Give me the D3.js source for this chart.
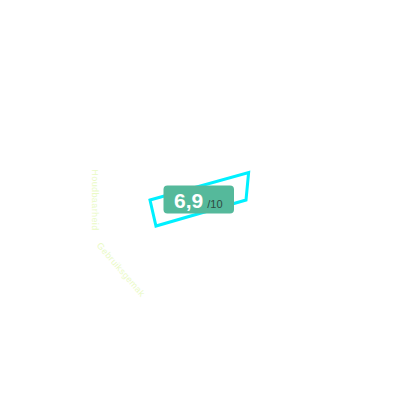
<!DOCTYPE html>
<html>
<head>
<meta charset="utf-8">
<script src="https://cdn.jsdelivr.net/npm/d3@7"></script>
<style>
  body { margin: 0; background: #fff; }
</style>
</head>
<body>
<div id="chart"></div>
<script>
// radar data: 12 axis slots, only four carry a value
const slotCount = 12;
const pointSlots = [6, 11, 0, 5];
const pointValues = [5.1, 5.5, 4.5, 5.2];

// axis labels (only these two are visible)
const labelNames = ['Houdbaarheid', 'Gebruiksgemak'];
const labelAngles = [180, 139];

const scoreText = '6,9';
const scoreMaxText = '/10';

const width = 400;
const height = 400;
const center = { x: 201, y: 200 };

const svg = d3
  .select('#chart')
  .append('svg')
  .attr('width', width)
  .attr('height', height);

const rScale = d3.scaleLinear().domain([0, 10]).range([0, 100]);
const angleScale = d3.scaleLinear().domain([0, slotCount]).range([0, 2 * Math.PI]);

const g = svg.append('g').attr('transform', `translate(${center.x},${center.y})`);

// the value polygon
const points = pointSlots.map((s, i) => {
  const a = angleScale(s);
  const r = rScale(pointValues[i]);
  return [r * Math.cos(a), r * Math.sin(a)];
});

g.append('path')
  .attr('d', d3.line().curve(d3.curveLinearClosed)(points))
  .attr('fill', 'none')
  .attr('stroke', '#00f0ff')
  .attr('stroke-width', 3)
  .attr('stroke-linejoin', 'miter');

// faint axis labels
g.selectAll('text.label')
  .data(labelNames)
  .join('text')
  .attr('class', 'label')
  .attr('transform', (d, i) => {
    const a = labelAngles[i] * Math.PI / 180;
    const r = rScale(10.6);
    return `translate(${r * Math.cos(a)},${r * Math.sin(a)}) rotate(${labelAngles[i] - 90})`;
  })
  .attr('text-anchor', 'middle')
  .attr('dy', '0.35em')
  .attr('font-family', 'Liberation Sans, Arial, sans-serif')
  .attr('font-size', 9)
  .attr('letter-spacing', 0.4)
  .attr('fill', '#eafac6')
  .text((d) => d);

// score badge
const badge = svg.append('g').attr('transform', 'translate(198.5,200)');

badge.append('rect')
  .attr('x', -35)
  .attr('y', -14.5)
  .attr('width', 70.5)
  .attr('height', 28)
  .attr('rx', 4)
  .attr('fill', '#55b99b');

const label = badge.append('text')
  .attr('x', -24.5)
  .attr('y', 8)
  .attr('font-family', 'Liberation Sans, Arial, sans-serif');

label.append('tspan')
  .attr('font-size', 21)
  .attr('font-weight', 'bold')
  .attr('fill', '#fff')
  .text(scoreText);

label.append('tspan')
  .attr('dx', 4)
  .attr('font-size', 11)
  .attr('fill', '#2f4a42')
  .text(scoreMaxText);
</script>
</body>
</html>
